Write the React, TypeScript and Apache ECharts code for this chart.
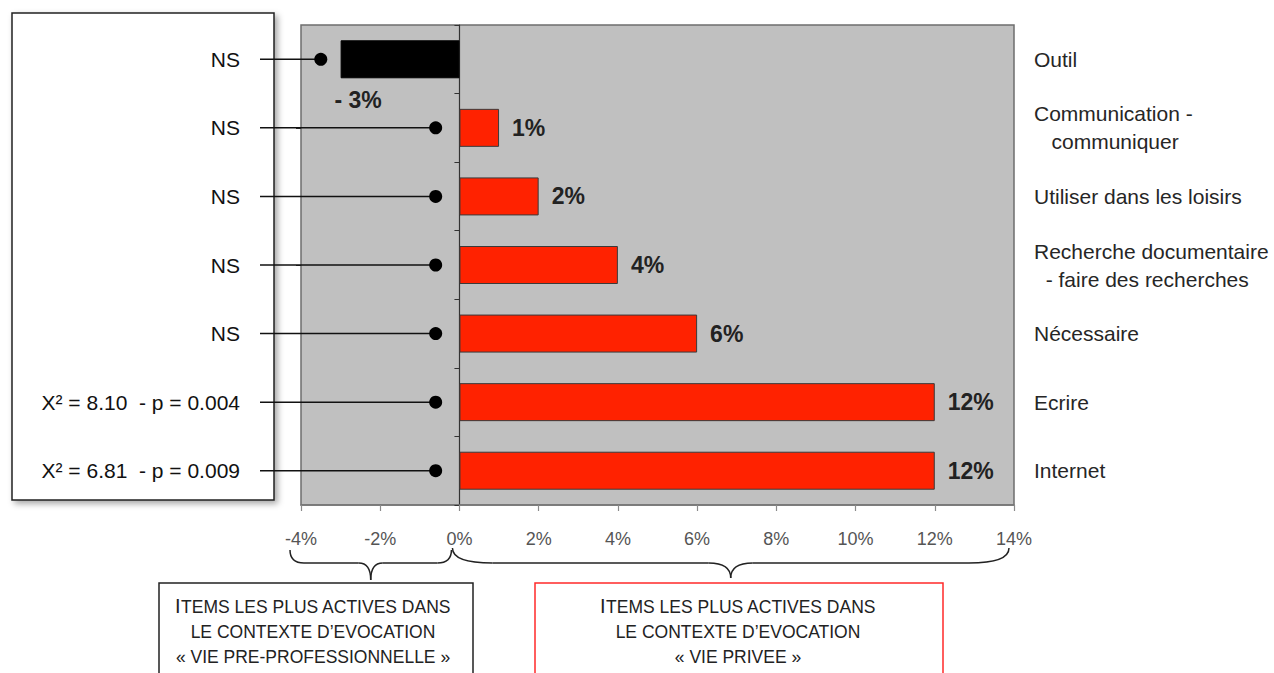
import React, { useEffect, useRef } from "react";
import * as echarts from "echarts";

// ---- data ----
const categories = [
  "Outil",
  "Communication -\n\u00a0\u00a0\u00a0communiquer",
  "Utiliser dans les loisirs",
  "Recherche documentaire\n\u00a0\u00a0- faire des recherches",
  "Nécessaire",
  "Ecrire",
  "Internet",
];
const values = [-3, 1, 2, 4, 6, 12, 12];
const statLabels = [
  "NS",
  "NS",
  "NS",
  "NS",
  "NS",
  "X² = 8.10 \u00a0- p = 0.004",
  "X² = 6.81 \u00a0- p = 0.009",
];
const markerValues = [-3.5, -0.6, -0.6, -0.6, -0.6, -0.6, -0.6];
const xMin = -4;
const xMax = 14;
const xStep = 2;
const leftGroupRange = [-4, 0];
const rightGroupRange = [0, 14];
const leftBoxLines = ["TEMS LES PLUS ACTIVES DANS", "LE CONTEXTE D\u2019EVOCATION", "« VIE PRE-PROFESSIONNELLE »"];
const rightBoxLines = ["TEMS LES PLUS ACTIVES DANS", "LE CONTEXTE D\u2019EVOCATION", "« VIE PRIVEE »"];

const FONT = "'Liberation Sans', Arial, Helvetica, sans-serif";

function boxText(lines: string[]) {
  return lines
    .map((l, i) => (i === 0 ? `{big|I}{sc|${l}}` : `{sc|${l}}`))
    .join("\n");
}

function brace(x0: number, x1: number, yTop: number, yMid: number, yTip: number, endR: number, tipR: number) {
  const tip = (x0 + x1) / 2;
  const st = { stroke: "#222", lineWidth: 1.5, fill: "none" };
  return [
    { type: "bezierCurve", shape: { x1: x0, y1: yTop, x2: x0 + endR, y2: yMid, cpx1: x0, cpy1: yMid }, style: st },
    { type: "line", shape: { x1: x0 + endR, y1: yMid, x2: tip - tipR, y2: yMid }, style: st },
    { type: "bezierCurve", shape: { x1: tip - tipR, y1: yMid, x2: tip, y2: yTip, cpx1: tip, cpy1: yMid }, style: st },
    { type: "bezierCurve", shape: { x1: tip, y1: yTip, x2: tip + tipR, y2: yMid, cpx1: tip, cpy1: yMid }, style: st },
    { type: "line", shape: { x1: tip + tipR, y1: yMid, x2: x1 - endR, y2: yMid }, style: st },
    { type: "bezierCurve", shape: { x1: x1 - endR, y1: yMid, x2: x1, y2: yTop, cpx1: x1, cpy1: yMid }, style: st },
  ];
}

export default function App() {
  const ref = useRef<HTMLDivElement>(null);

  useEffect(() => {
    document.body.style.margin = "0";
    const chart = echarts.init(ref.current!, undefined, { renderer: "svg" });

    const barData = values.map((v) => ({
      value: v,
      itemStyle: { color: v < 0 ? "#000000" : "#ff2200", borderColor: v < 0 ? "#000" : "#3a3a3a", borderWidth: 1 },
      label:
        v < 0
          ? { position: "bottom", offset: [-42, 0], distance: 10 }
          : { position: "right", distance: 13 },
    }));

    chart.setOption({
      animation: false,
      textStyle: { fontFamily: FONT },
      grid: {
        left: 301,
        right: 260,
        top: 25,
        bottom: 168,
        show: true,
        backgroundColor: "#c0c0c0",
        borderColor: "#6e6e6e",
        borderWidth: 1.5,
      },
      xAxis: {
        type: "value",
        min: xMin,
        max: xMax,
        interval: xStep,
        axisLine: { show: true, onZero: false, lineStyle: { color: "#777", width: 1.5 } },
        axisTick: { show: true, length: 6, lineStyle: { color: "#8a8a8a", width: 1.2 } },
        splitLine: { show: false },
        axisLabel: {
          margin: 25,
          color: "#555",
          fontSize: 18,
          fontFamily: FONT,
          formatter: (v: number) => `${v}%`,
        },
      },
      yAxis: [
        {
          type: "category",
          data: categories,
          inverse: true,
          position: "left",
          axisLine: { show: true, onZero: true, lineStyle: { color: "#333", width: 1.2 } },
          axisTick: { show: true, length: 5, alignWithLabel: false, lineStyle: { color: "#333" } },
          axisLabel: { show: false },
          splitLine: { show: false },
        },
        {
          type: "category",
          data: categories,
          inverse: true,
          position: "right",
          axisLine: { show: false, onZero: false },
          axisTick: { show: false },
          axisLabel: {
            show: true,
            margin: 20,
            align: "left",
            color: "#262626",
            fontSize: 21,
            lineHeight: 28,
            fontFamily: FONT,
          },
        },
        {
          type: "category",
          data: categories,
          inverse: true,
          position: "left",
          axisLine: { show: false, onZero: true },
          axisTick: { show: true, length: 5, alignWithLabel: true, lineStyle: { color: "#333" } },
          axisLabel: { show: false },
        },
      ],
      series: [
        {
          type: "bar",
          yAxisIndex: 0,
          data: barData,
          barWidth: 38,
          label: {
            show: true,
            fontSize: 23,
            fontWeight: "bold",
            color: "#222",
            fontFamily: FONT,
            formatter: (p: any) => (p.value < 0 ? `- ${Math.abs(p.value)}%` : `${p.value}%`),
          },
          z: 2,
        },
        {
          type: "custom",
          yAxisIndex: 0,
          clip: false,
          z: 5,
          data: markerValues.map((v, i) => [v, i]),
          encode: { x: 0, y: 1 },
          renderItem: (params: any, api: any) => {
            const p = api.coord([api.value(0), api.value(1)]);
            return {
              type: "group",
              children: [
                {
                  type: "line",
                  shape: { x1: 260, y1: p[1], x2: p[0], y2: p[1] },
                  style: { stroke: "#111", lineWidth: 1.5 },
                },
                {
                  type: "circle",
                  shape: { cx: p[0], cy: p[1], r: 6.5 },
                  style: { fill: "#000" },
                },
                {
                  type: "text",
                  x: 240,
                  y: p[1],
                  style: {
                    text: statLabels[params.dataIndex],
                    align: "right",
                    verticalAlign: "middle",
                    fontSize: 21,
                    fontFamily: FONT,
                    fill: "#111",
                  },
                },
              ],
            };
          },
        },
      ],
    });

    const px = (v: number) => chart.convertToPixel({ xAxisIndex: 0 }, v) as number;

    const rich = {
      big: { fontSize: 20, fontFamily: FONT, fill: "#222", lineHeight: 25, verticalAlign: "bottom" },
      sc: { fontSize: 17.5, fontFamily: FONT, fill: "#222", lineHeight: 25, verticalAlign: "bottom" },
    };

    chart.setOption({
      graphic: [
        {
          type: "rect",
          z: -1,
          shape: { x: 12, y: 13, width: 262, height: 487 },
          style: {
            fill: "#fff",
            stroke: "#222",
            lineWidth: 1.5,
            shadowBlur: 6,
            shadowOffsetX: 3,
            shadowOffsetY: 3,
            shadowColor: "rgba(0,0,0,0.35)",
          },
        },
        ...brace(px(leftGroupRange[0]) - 11, px(leftGroupRange[1]) - 8, 550, 563, 580, 14, 12),
        ...brace(px(rightGroupRange[0]) - 7, px(rightGroupRange[1]) - 5, 548, 563, 578, 40, 22),
        {
          type: "rect",
          shape: { x: 159, y: 583, width: 314, height: 120 },
          style: { fill: "#fff", stroke: "#222", lineWidth: 1.5 },
        },
        {
          type: "rect",
          shape: { x: 535, y: 583, width: 408, height: 120 },
          style: { fill: "#fff", stroke: "#ff2a2a", lineWidth: 1.5 },
        },
        {
          type: "text",
          x: 313,
          y: 591,
          style: { text: boxText(leftBoxLines), rich, align: "center", verticalAlign: "top", fontFamily: FONT },
        },
        {
          type: "text",
          x: 738,
          y: 591,
          style: { text: boxText(rightBoxLines), rich, align: "center", verticalAlign: "top", fontFamily: FONT },
        },
      ],
    });

    return () => chart.dispose();
  }, []);

  return <div ref={ref} style={{ width: 1274, height: 673 }} />;
}
